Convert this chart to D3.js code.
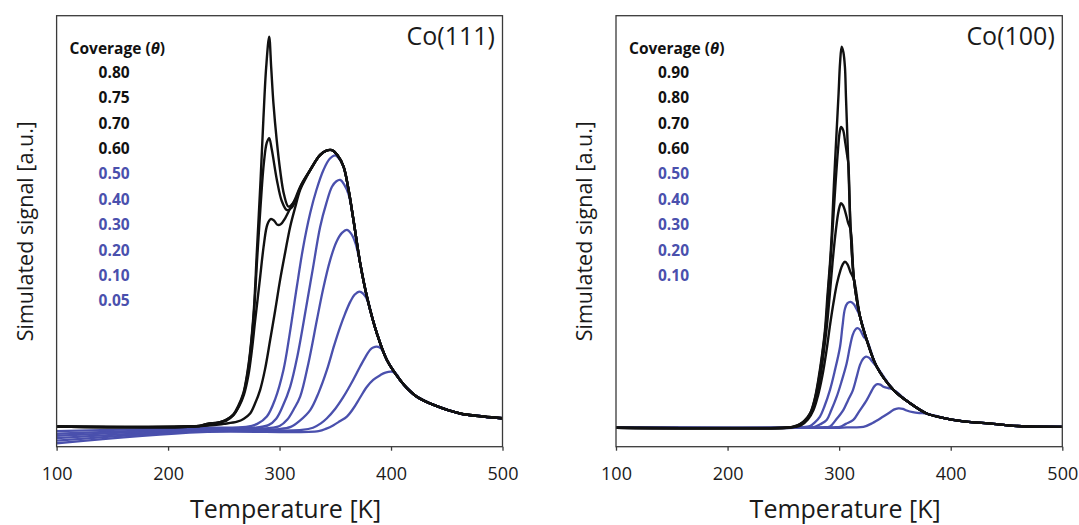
<!DOCTYPE html>
<html>
<head>
<meta charset="utf-8">
<script src="https://cdn.jsdelivr.net/npm/d3@7"></script>
<style>
  html, body { margin: 0; padding: 0; background: #fff; }
  svg { display: block; }
  text { font-family: "Open Sans", Lato, sans-serif; }
</style>
</head>
<body>
<svg id="chart" width="1079" height="525"></svg>
<script>
// ---------------- DATA ----------------
const xTicks = [100, 200, 300, 400, 500];
const xDomain = [100, 500];
const yDomain = [0, 100];

const legendTitle = "Coverage (";
const co111Title = "Co(111)";
const co100Title = "Co(100)";
const xAxisTitle = "Temperature [K]";
const yAxisTitle = "Simulated signal [a.u.]";

// Co(111): coverages, high coverages in black, low in blue
const co111Black = ["0.80", "0.75", "0.70", "0.60"];
const co111Blue = ["0.50", "0.40", "0.30", "0.20", "0.10", "0.05"];

// shared high-temperature tail of the Co(111) curves [T, signal]
const co111Tail = [[347,68.8],[352,67.6],[357.4,65.0],[361.9,59.6],[366.3,52.6],[372.3,42.6],[378.4,34.8],[387.3,26.3],[396.3,20.1],[408.3,15.4],[414.3,13.6],[423.2,11.6],[438.2,9.7],[462.1,7.7],[483,7.0],[500,6.6]];

const co111_080 = [[100,4.7],[228,4.8],[235,5.3],[245,5.6],[252,6.2],[258.6,7.5],[263,9.5],[267.6,12.5],[271,17],[273.6,22],[277,32],[279.6,45],[283,62],[285.5,76],[288,88],[290.7,95.1],[292.5,88],[294.5,79.7],[297.5,71],[300.5,64.2],[304,58.5],[308,55.7],[312,56.5],[318.5,60.3],[327.5,64.2],[336.4,67.7],[342,68.7]];
const co111_075 = [[100,4.7],[228,4.8],[235,5.3],[245,5.6],[252,6.0],[258.6,7.3],[263,9.2],[267.6,12.2],[271,16.5],[273.6,21.5],[277,31],[280,44],[283,56],[286,66],[288.5,70.5],[290.7,71.6],[293,69],[297.6,61.9],[302,57],[306.6,54.9],[311,55.5],[318.5,60],[327.5,64.2],[336.4,67.7],[342,68.7]];
const co111_070 = [[100,4.7],[230,4.8],[240,5.3],[250,6.0],[258,7.2],[264,9.5],[268,12],[272,16.5],[275,22],[278,29],[282,38],[286,47],[289,51.5],[292,52.8],[295,52.5],[298,51.5],[301,51.6],[305,53],[310,55.5],[315.5,58.0],[320,61],[327.5,64.2],[336.4,67.7],[342,68.7]];
const co111_060 = [[100,4.7],[235,4.9],[250,5.3],[262,5.8],[268,6.5],[273.6,7.7],[278,10],[282.6,13.2],[287,18],[291.6,24.8],[296,31.5],[300.5,38.7],[305,45],[309.5,51.0],[314,55.5],[318.5,59.6],[324,62.5],[330,65.3],[336,67.5],[342,68.7]];
const co111_050 = [[100,3.6],[230,4.4],[270,4.6],[280,5.3],[288.6,7.0],[296,11],[303.5,17.8],[309,26],[315.5,37.1],[321,46],[327.5,54.2],[333,59.5],[339.4,64.2],[345,66.8],[350,67.6],[354,66.6]];
const co111_040 = [[100,3.0],[230,4.2],[280,4.5],[290,5.0],[297,6.5],[303,9.5],[309.5,13.9],[316,21],[324.5,33.3],[330,41.5],[336.4,51.0],[342,56.5],[347,60.3],[351,61.6],[354.4,61.9],[358,60.8],[362,58.5]];
const co111_030 = [[100,2.5],[230,4.0],[290,4.3],[300,4.8],[307,6.3],[313,8.8],[318.5,11.6],[326,19.5],[333.5,29.4],[339,36.5],[345.4,43.3],[351,47.5],[356,49.6],[360.4,50.3],[364,49.5],[368,47.3]];
const co111_020 = [[100,2.0],[230,3.8],[300,4.1],[310,4.6],[318,6],[327.5,8.5],[335,12.5],[342.5,17.8],[349,23.5],[354.4,27.8],[359,31],[363.4,33.6],[367.5,35.3],[371.7,36.0],[375,35.5],[378.4,34.2],[382,31]];
const co111_010 = [[100,1.4],[230,3.6],[320,3.9],[330,4.4],[337,5.4],[342.5,6.6],[350,8.8],[357.4,11.6],[365,15],[372.3,18.6],[377,20.8],[381.3,22.5],[384,23.0],[387.3,23.2],[391,22.8],[394,21.5]];
const co111_005 = [[100,0.8],[230,3.4],[335,3.6],[342,4.2],[348.4,5.0],[354,5.9],[360.4,7.0],[366,8.8],[372,11.3],[378.4,13.9],[384,15.5],[390.3,16.6],[395,17.2],[400.8,17.4],[405,16.8]];

// Co(100)
const co100Black = ["0.90", "0.80", "0.70", "0.60"];
const co100Blue = ["0.50", "0.40", "0.30", "0.20", "0.10"];

const co100Tail = [[306.1,81.2],[308.2,65.8],[310.3,50.3],[313.3,38.7],[318.7,30.2],[324.7,24.8],[333.6,18.6],[348.6,13.2],[363.5,10.1],[378.5,7.7],[393,6.7],[408.3,6.0],[438.1,5.3],[453,4.9],[470,4.7],[500,4.6]];

const co100_090 = [[100,4.4],[250,4.4],[256,4.5],[262,4.8],[268,5.8],[273.9,7.7],[278,11],[281.3,15.5],[284.5,21],[287.3,27.1],[289.5,35],[291.8,42.6],[293.5,50],[294.8,58.0],[296.3,66],[297.8,73.5],[299.5,82],[300.8,89],[302.3,92.8],[303.8,91.5],[305.2,88]];
const co100_080 = [[100,4.4],[252,4.4],[258,4.6],[263,5.0],[269,6.0],[274.5,8.0],[278.5,11.3],[282,16],[285,21.5],[288,28],[290.5,37],[293,46],[295,54],[297,62],[299,69],[300.5,73],[301.7,74.2],[303.5,73.5],[305.5,70.5],[307.5,67]];
const co100_070 = [[100,4.4],[253,4.4],[259,4.6],[264,5.0],[270,6.1],[275,8.0],[279,11],[283,16],[286,21.5],[289,28],[291.5,35],[294,42.5],[296.5,49],[299,54],[300.5,55.8],[301.7,56.5],[303.5,56],[305.5,54.5],[308,52]];
const co100_060 = [[100,4.4],[255,4.4],[261,4.6],[266,5.0],[272,6.3],[277,8.5],[281,11.8],[285,16.5],[288.5,22],[292,28.5],[295,33.5],[298,37.8],[301,40.8],[303,42.2],[305.2,42.9],[307.5,42.3],[310,40.6]];
const co100_050 = [[100,4.4],[260,4.4],[266,4.5],[273.9,4.8],[278,5.6],[282.8,7.0],[287,9.5],[291.8,13.2],[296,17.5],[300.8,23.2],[303,28],[305.2,32.0],[307.5,33.3],[310.3,33.6],[313,33.1],[315.5,32]];
const co100_040 = [[100,4.4],[265,4.4],[276.9,4.5],[283,5.2],[288.8,6.2],[293,8.5],[297.8,11.6],[302,15],[306.7,19.3],[309.5,23],[312.1,25.9],[314.3,27.1],[316.3,27.5],[318.5,27.2],[320.2,26.4],[322.5,25.3]];
const co100_030 = [[100,4.4],[275,4.4],[285,4.5],[291.8,4.7],[297,6.2],[303.7,8.5],[308,10.8],[312,12.9],[315.7,16.2],[318.7,19.0],[321.5,20.4],[324.1,20.9],[327,20.6],[329.5,19.8]];
const co100_020 = [[100,4.4],[285,4.4],[295,4.5],[300.8,4.6],[306,5.3],[312.7,6.2],[318,8.2],[324.7,10.8],[329.2,13.0],[331.5,14.0],[334.2,14.5],[337,14.4],[339.6,13.9],[344,13.6]];
const co100_010 = [[100,4.4],[300,4.4],[310,4.5],[321.7,4.6],[330,5.5],[339.6,7.0],[345.6,8.0],[349,8.6],[353,8.9],[357,8.8],[360.5,8.4],[366,8.0],[372,7.8]];

// ---------------- STYLE ----------------
const BLACK = "#111111";
const BLUE = "#4a50ad";
const FRAME = "#3a3a3a";
const TEXT = "#1a1a1a";

const panels = [
  { x0: 56.6, x1: 502.5, title: co111Title,
    black: co111Black, blue: co111Blue,
    blackData: [co111_080, co111_075, co111_070, co111_060],
    blueData: [co111_050, co111_040, co111_030, co111_020, co111_010, co111_005],
    tail: co111Tail },
  { x0: 616, x1: 1062.3, title: co100Title,
    black: co100Black, blue: co100Blue,
    blackData: [co100_090, co100_080, co100_070, co100_060],
    blueData: [co100_050, co100_040, co100_030, co100_020, co100_010],
    tail: co100Tail }
];
const yTop = 15.7, yBot = 446.7;

const svg = d3.select("#chart");

function withTail(pts, tail) {
  const last = pts[pts.length - 1][0];
  return pts.concat(tail.filter(d => d[0] > last + 0.5));
}

panels.forEach(p => {
  const x = d3.scaleLinear().domain(xDomain).range([p.x0, p.x1]);
  const y = d3.scaleLinear().domain(yDomain).range([yBot, yTop]);
  const g = svg.append("g");

  const line = d3.line().x(d => x(d[0])).y(d => y(d[1])).curve(d3.curveCatmullRom.alpha(0.5));

  const cid = "clip" + Math.round(p.x0);
  svg.append("clipPath").attr("id", cid).append("rect")
    .attr("x", p.x0).attr("y", yTop).attr("width", p.x1 - p.x0).attr("height", yBot - yTop);
  const plot = g.append("g").attr("clip-path", `url(#${cid})`);

  // blue curves first (under the black)
  p.blueData.slice().reverse().forEach(d => {
    plot.append("path").attr("d", line(withTail(d, p.tail)))
      .attr("fill", "none").attr("stroke", BLUE).attr("stroke-width", 2.3)
      .attr("stroke-linejoin", "round");
  });
  p.blackData.slice().reverse().forEach(d => {
    plot.append("path").attr("d", line(withTail(d, p.tail)))
      .attr("fill", "none").attr("stroke", BLACK).attr("stroke-width", 2.4)
      .attr("stroke-linejoin", "round");
  });

  // frame
  g.append("rect").attr("x", p.x0).attr("y", yTop)
    .attr("width", p.x1 - p.x0).attr("height", yBot - yTop)
    .attr("fill", "none").attr("stroke", FRAME).attr("stroke-width", 1.3);

  // x axis
  const ax = g.append("g").attr("transform", `translate(0,${yBot})`)
    .call(d3.axisBottom(x).tickValues(xTicks).tickSize(4).tickPadding(17).tickFormat(d3.format("d")));
  ax.select(".domain").remove();
  ax.selectAll(".tick line").attr("stroke", FRAME).attr("stroke-width", 1.3);
  ax.selectAll(".tick text").attr("font-size", 18).attr("fill", TEXT)
    .attr("font-family", "'Open Sans', sans-serif");

  // axis titles
  g.append("text").attr("x", (p.x0 + p.x1) / 2 + 6).attr("y", 518)
    .attr("text-anchor", "middle").attr("font-size", 25).attr("fill", TEXT)
    .text(xAxisTitle);
  g.append("text")
    .attr("transform", `translate(${p.x0 - 24},${(yTop + yBot) / 2}) rotate(-90)`)
    .attr("text-anchor", "middle").attr("font-size", 21.5).attr("fill", TEXT)
    .text(yAxisTitle);

  // panel title
  g.append("text").attr("x", p.x1 - 7.5).attr("y", 45)
    .attr("text-anchor", "end").attr("font-size", 25).attr("fill", TEXT)
    .text(p.title);

  // legend
  const lt = g.append("text").attr("x", p.x0 + 13).attr("y", 53.5)
    .attr("font-size", 15.5).attr("font-weight", "bold").attr("fill", BLACK);
  lt.append("tspan").text(legendTitle);
  lt.append("tspan").attr("font-style", "italic").text("θ");
  lt.append("tspan").text(")");

  const labels = p.black.map(t => ({ t, c: BLACK })).concat(p.blue.map(t => ({ t, c: BLUE })));
  labels.forEach((l, i) => {
    g.append("text").attr("x", p.x0 + 42).attr("y", 77.8 + i * 25.4)
      .attr("font-size", 15.5).attr("font-weight", "bold").attr("fill", l.c)
      .text(l.t);
  });
});
</script>
</body>
</html>
